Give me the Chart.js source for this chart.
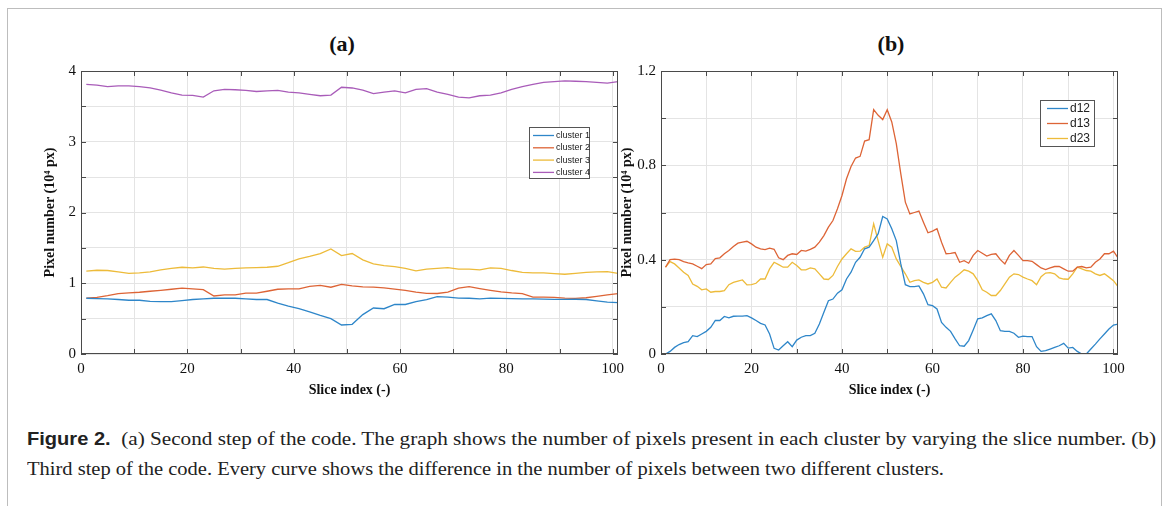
<!DOCTYPE html>
<html lang="en">
<head>
<meta charset="UTF-8">
<title>Figure 2</title>
<script src="https://cdn.jsdelivr.net/npm/chart.js"></script>
<style>
  html, body { margin: 0; padding: 0; background: #fff; overflow: hidden; }
  body { width: 1168px; height: 506px; position: relative; }
  #frame { position: absolute; left: 7px; top: 8px; width: 1153px; height: 600px; border: 1px solid #bdbdbd; }
  canvas { position: absolute; top: 20px; }
  #chartA { left: 20px; }
  #chartB { left: 610px; }
  .panel-title { position: absolute; top: 31px; font: bold 22px "Liberation Serif", serif; color: #111; transform: translateX(-50%); }
  .cap { position: absolute; left: 27px; white-space: nowrap; font: 19px "Liberation Serif", serif; color: #222; transform-origin: left center; }
  .cap b { font-family: "Liberation Sans", sans-serif; font-size: 18px; }
</style>
</head>
<body>
<div id="frame"></div>
<div class="panel-title" style="left:342px">(a)</div>
<div class="panel-title" style="left:891px">(b)</div>
<canvas id="chartA" width="612" height="390"></canvas>
<canvas id="chartB" width="522" height="390"></canvas>
<div class="cap" id="cap1" style="top:428px"><b>Figure 2.</b>&nbsp;&nbsp;(a) Second step of the code. The graph shows the number of pixels present in each cluster by varying the slice number. (b)</div>
<div class="cap" id="cap2" style="top:458px">Third step of the code. Every curve shows the difference in the number of pixels between two different clusters.</div>

<script>
  // (a) pixels per cluster, read every second slice
  const slicesA = [1,3,5,7,9,11,13,15,17,19,21,23,25,27,29,31,33,35,37,39,41,43,45,47,49,51,53,55,57,59,61,63,65,67,69,71,73,75,77,79,81,83,85,87,89,91,93,95,97,99,101];
  const cluster1 = [0.788,0.783,0.78,0.77,0.76,0.76,0.745,0.74,0.74,0.755, 0.77,0.78,0.788,0.79,0.788,0.78,0.77,0.77,0.72,0.675, 0.64,0.595,0.545,0.50,0.41,0.42,0.557,0.65,0.64,0.70, 0.70,0.74,0.77,0.81,0.805,0.79,0.788,0.78,0.79,0.787, 0.782,0.778,0.78,0.777,0.772,0.772,0.774,0.77,0.752,0.733,0.726];
  const cluster2 = [0.79,0.80,0.825,0.854,0.863,0.873,0.887,0.90,0.915,0.93, 0.92,0.91,0.82,0.835,0.835,0.86,0.86,0.887,0.915,0.92, 0.92,0.957,0.97,0.944,0.985,0.964,0.95,0.944,0.935,0.918, 0.90,0.876,0.857,0.855,0.875,0.93,0.953,0.925,0.90,0.877, 0.863,0.854,0.805,0.803,0.80,0.79,0.785,0.795,0.815,0.837,0.854];
  const cluster3 = [1.17,1.184,1.18,1.16,1.14,1.146,1.16,1.19,1.21,1.226, 1.217,1.23,1.21,1.20,1.21,1.217,1.22,1.226,1.24,1.29, 1.344,1.38,1.42,1.486,1.39,1.42,1.33,1.275,1.25,1.235, 1.21,1.175,1.20,1.21,1.22,1.20,1.20,1.19,1.217,1.21, 1.18,1.155,1.146,1.146,1.137,1.127,1.14,1.155,1.16,1.165,1.14];
  const cluster4 = [3.81,3.80,3.78,3.79,3.79,3.78,3.76,3.73,3.69,3.66, 3.655,3.63,3.72,3.74,3.735,3.725,3.71,3.72,3.725,3.70, 3.69,3.67,3.65,3.66,3.77,3.76,3.73,3.68,3.70,3.72, 3.69,3.74,3.75,3.70,3.67,3.63,3.62,3.65,3.66,3.69, 3.74,3.78,3.81,3.84,3.85,3.86,3.855,3.85,3.84,3.83,3.85];

  // (b) differences between clusters, every slice
  const slicesB = [1,2,3,4,5,6,7,8,9,10,11,12,13,14,15,16,17,18,19,20,21,22,23,24,25,26,27,28,29,30,31,32,33,34,35,36,37,38,39,40,41,42,43,44,45,46,47,48,49,50,51,52,53,54,55,56,57,58,59,60,61,62,63,64,65,66,67,68,69,70,71,72,73,74,75,76,77,78,79,80,81,82,83,84,85,86,87,88,89,90,91,92,93,94,95,96,97,98,99,100,101];
  const d12 = [0,0.011,0.028,0.04,0.048,0.052,0.078,0.074,0.085,0.096, 0.113,0.142,0.142,0.159,0.153,0.16,0.161,0.161,0.163,0.153, 0.142,0.13,0.123,0.085,0.024,0.017,0.035,0.052,0.031,0.059, 0.071,0.078,0.078,0.088,0.127,0.177,0.226,0.233,0.258,0.272, 0.318,0.347,0.389,0.41,0.446,0.453,0.481,0.51,0.583,0.573, 0.531,0.481,0.382,0.294,0.286,0.286,0.289,0.255,0.209,0.205, 0.191,0.134,0.113,0.096,0.064,0.035,0.033,0.057,0.102,0.149, 0.153,0.163,0.17,0.142,0.099,0.096,0.096,0.088,0.071,0.076, 0.074,0.074,0.031,0.011,0.014,0.021,0.028,0.035,0.045,0.025, 0.028,0.011,0,0,0.021,0.042,0.064,0.085,0.106,0.123,0.127];
  const d13 = [0.368,0.40,0.402,0.40,0.392,0.386,0.382,0.372,0.362,0.379, 0.382,0.405,0.408,0.425,0.439,0.456,0.47,0.474,0.478,0.467, 0.453,0.446,0.443,0.449,0.444,0.408,0.40,0.418,0.425,0.422, 0.439,0.436,0.444,0.453,0.474,0.502,0.538,0.566,0.616,0.672, 0.743,0.795,0.831,0.838,0.903,0.909,1.036,1.012,0.994,1.036, 0.984,0.892,0.764,0.644,0.594,0.60,0.606,0.559,0.514,0.521, 0.531,0.474,0.425,0.427,0.43,0.389,0.396,0.385,0.418,0.439, 0.427,0.415,0.422,0.425,0.40,0.382,0.418,0.439,0.418,0.396, 0.396,0.393,0.379,0.365,0.358,0.365,0.371,0.371,0.361,0.351, 0.351,0.368,0.371,0.365,0.368,0.389,0.403,0.425,0.425,0.436,0.408];
  const d23 = [0.368,0.392,0.382,0.365,0.347,0.333,0.297,0.287,0.272,0.276, 0.262,0.265,0.265,0.269,0.294,0.304,0.309,0.314,0.293,0.294, 0.30,0.318,0.318,0.361,0.389,0.379,0.368,0.368,0.389,0.375, 0.357,0.357,0.365,0.361,0.34,0.318,0.316,0.333,0.371,0.403, 0.425,0.446,0.435,0.436,0.453,0.46,0.552,0.48,0.41,0.467, 0.453,0.403,0.371,0.34,0.304,0.311,0.314,0.304,0.297,0.304, 0.318,0.283,0.28,0.304,0.326,0.34,0.357,0.351,0.34,0.311, 0.272,0.262,0.248,0.248,0.269,0.297,0.326,0.34,0.337,0.326, 0.318,0.311,0.294,0.328,0.343,0.345,0.34,0.323,0.318,0.317, 0.34,0.368,0.361,0.354,0.351,0.34,0.333,0.34,0.326,0.311,0.286];

  const BLUE = '#2e86c9', ORANGE = '#dd6436', YELLOW = '#edbb3a', PURPLE = '#a95cb9';
  const serif = '"Liberation Serif", "Times New Roman", serif';

  function pts(xs, ys) { return ys.map((y, i) => ({ x: xs[i], y: y })); }

  // MATLAB style box with inward tick marks
  const boxPlugin = {
    id: 'boxAxes',
    afterDatasetsDraw(chart) {
      const { ctx, chartArea: a, scales: { x, y } } = chart;
      ctx.save();
      ctx.strokeStyle = '#4a4a4a';
      ctx.lineWidth = 1;
      ctx.strokeRect(a.left + 0.5, a.top + 0.5, a.right - a.left - 1, a.bottom - a.top - 1);
      ctx.beginPath();
      x.ticks.forEach(t => {
        const px = Math.round(x.getPixelForValue(t.value)) + 0.5;
        ctx.moveTo(px, a.bottom); ctx.lineTo(px, a.bottom - 5);
        ctx.moveTo(px, a.top); ctx.lineTo(px, a.top + 5);
      });
      y.ticks.forEach(t => {
        const py = Math.round(y.getPixelForValue(t.value)) + 0.5;
        ctx.moveTo(a.left, py); ctx.lineTo(a.left + 5, py);
        ctx.moveTo(a.right, py); ctx.lineTo(a.right - 5, py);
      });
      ctx.stroke();
      ctx.restore();
    }
  };

  // legend box inside the plot area
  const legendPlugin = {
    id: 'boxLegend',
    afterDraw(chart, args, o) {
      const { ctx, chartArea: a } = chart;
      const bx = a.right - o.right - o.width, by = a.top + o.top;
      ctx.save();
      ctx.fillStyle = '#fff';
      ctx.fillRect(bx, by, o.width, o.height);
      ctx.strokeStyle = '#555';
      ctx.lineWidth = 1;
      ctx.strokeRect(Math.round(bx) + 0.5, Math.round(by) + 0.5, o.width, o.height);
      ctx.font = o.font;
      ctx.textBaseline = 'middle';
      chart.data.datasets.forEach((ds, i) => {
        const ry = by + o.first + i * o.step;
        ctx.strokeStyle = ds.borderColor;
        ctx.lineWidth = 1.3;
        ctx.beginPath();
        ctx.moveTo(bx + o.lineX, ry); ctx.lineTo(bx + o.lineX + o.lineLen, ry);
        ctx.stroke();
        ctx.fillStyle = '#222';
        ctx.fillText(ds.label, bx + o.textX, ry);
      });
      ctx.restore();
    }
  };

  function makeChart(id, datasets, yMax, yStep, yLabel, yWidth, yTitlePad, legend) {
    return new Chart(document.getElementById(id), {
      type: 'line',
      data: { datasets: datasets },
      options: {
        responsive: false,
        animation: false,
        layout: { padding: { top: 51, right: 14, bottom: 0, left: 0 } },
        elements: { point: { radius: 0 }, line: { borderWidth: 1.3, tension: 0 } },
        plugins: { legend: { display: false }, tooltip: { enabled: false }, boxLegend: legend },
        scales: {
          x: {
            type: 'linear', min: 0, max: 101,
            grid: { color: '#e4e4e4', drawTicks: false },
            border: { display: false },
            ticks: {
              stepSize: 10, includeBounds: false, autoSkip: false, maxRotation: 0, padding: 6,
              color: '#111', font: { family: serif, size: 15 },
              callback: v => (v % 20 === 0 ? v : '')
            },
            title: { display: true, text: 'Slice index (-)', color: '#111',
              font: { family: serif, size: 14, weight: 'bold' }, padding: { top: 0, bottom: 11.6 } },
            afterFit: s => { s.height = 56; }
          },
          y: {
            min: 0, max: yMax,
            grid: { color: '#e4e4e4', drawTicks: false },
            border: { display: false },
            ticks: {
              stepSize: yStep, padding: 5, color: '#111', font: { family: serif, size: 15 },
              callback: yLabel
            },
            title: { display: true, text: 'Pixel number (10\u2074 px)', color: '#111',
              font: { family: serif, size: 14, weight: 'bold' }, padding: { top: yTitlePad, bottom: 0 } },
            afterFit: s => { s.width = yWidth; }
          }
        }
      },
      plugins: [boxPlugin, legendPlugin]
    });
  }

  const line = (label, xs, ys, color) => ({ label: label, data: pts(xs, ys), borderColor: color, backgroundColor: color, fill: false });

  makeChart('chartA', [
    line('cluster 1', slicesA, cluster1, BLUE),
    line('cluster 2', slicesA, cluster2, ORANGE),
    line('cluster 3', slicesA, cluster3, YELLOW),
    line('cluster 4', slicesA, cluster4, PURPLE)
  ], 4, 0.5, v => (Math.abs(v - Math.round(v)) < 1e-6 ? Math.round(v) : ''), 61, 21.6,
  { right: 29, top: 56, width: 60, height: 51, first: 8.5, step: 12.3, lineX: 4, lineLen: 21, textX: 27, font: '9px "Liberation Sans", Arial, sans-serif' });

  makeChart('chartB', [
    line('d12', slicesB, d12, BLUE),
    line('d13', slicesB, d13, ORANGE),
    line('d23', slicesB, d23, YELLOW)
  ], 1.2, 0.2, v => {
    const k = Math.round(v * 10);
    if (k % 4 !== 0) return '';
    return k === 0 ? '0' : (k / 10).toFixed(1);
  }, 51, 9,
  { right: 24, top: 29, width: 54, height: 46, first: 8.5, step: 15, lineX: 7, lineLen: 21, textX: 30, font: '12px "Liberation Sans", Arial, sans-serif' });

  // squeeze caption lines to the measured line lengths
  [['cap1', 1129], ['cap2', 917]].forEach(([id, target]) => {
    const el = document.getElementById(id);
    const w = el.getBoundingClientRect().width;
    el.style.transform = 'scaleX(' + (target / w) + ')';
  });
</script>
</body>
</html>
